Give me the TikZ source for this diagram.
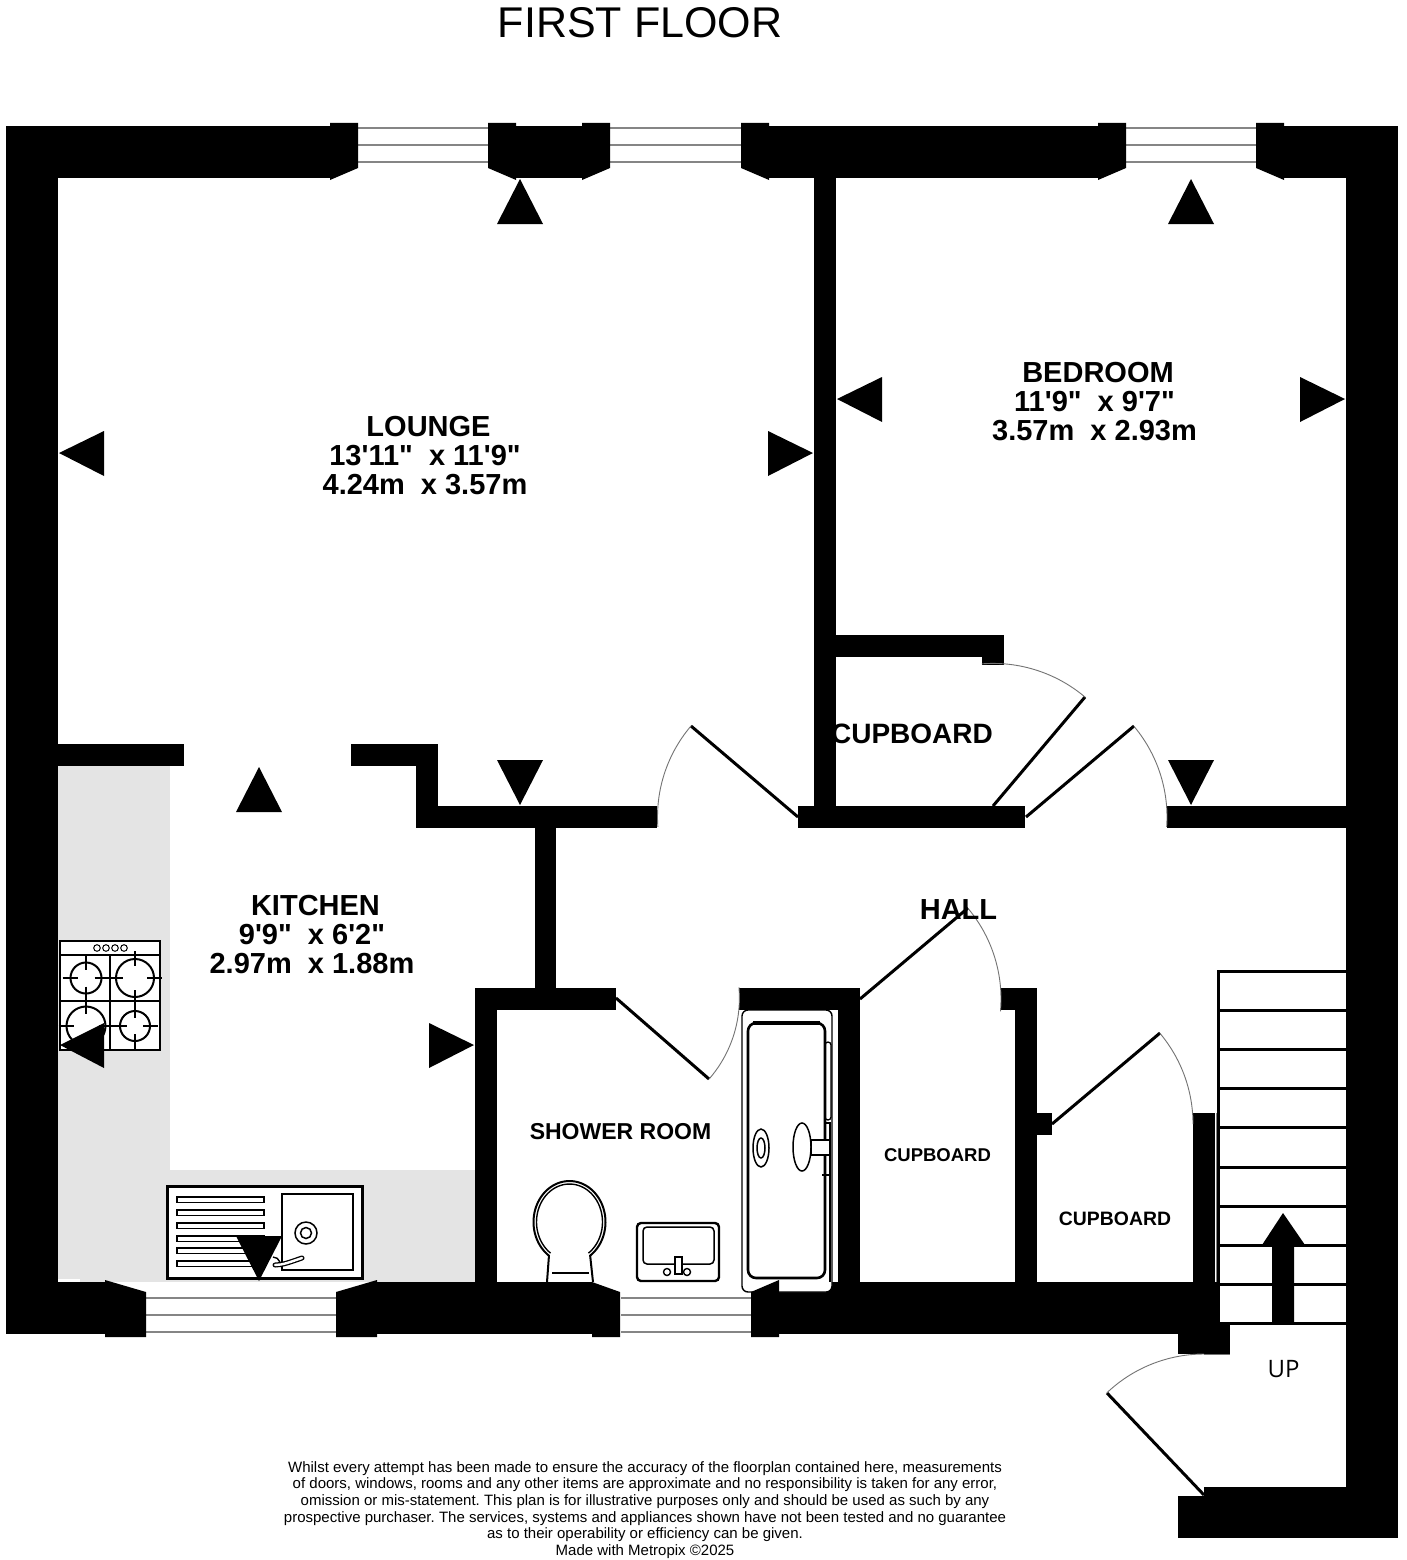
\documentclass[tikz,border=0pt]{standalone}
\usepackage{fontspec}
\setmainfont{Liberation Sans}
\newfontfamily\plainsans{Liberation Sans}
\newfontfamily\upfont{Open Sans}
\tikzset{
  wall/.style={fill=black,draw=none},
  glass/.style={draw=black!48,line width=2.6pt},
  leaf/.style={draw=black,line width=3pt},
  swing/.style={draw=black!55,line width=0.9pt},
  fix/.style={draw=black,line width=2pt,fill=white},
  thin/.style={draw=black,line width=1.8pt},
  roomlabel/.style={font=\fontsize{29}{29}\plainsans\bfseries,align=center,inner sep=0pt},
  tag/.style={inner sep=0pt},
}
\newcommand{\doorswing}[5]{\draw[swing] plot[domain=#4:#5,samples=30,smooth] ({#1+#3*cos(\x)},{#2+#3*sin(\x)});}
\newcommand{\rec}[4]{\fill[wall] (#1,#2) rectangle (#3,#4);}
\begin{document}
\begin{tikzpicture}[x=1pt,y=-1pt]
\frenchspacing
\useasboundingbox (0,0) rectangle (1406,1560);
\fill[white] (0,0) rectangle (1406,1560);
% worktops
\fill[black!10.5] (58,766) rectangle (170,1283);
\fill[black!10.5] (58,1170) rectangle (475,1283);
\fill[white] (58,1279) rectangle (80,1283);
% outer walls
\rec{6}{126}{1398}{178}
\rec{6}{126}{58}{1334}
\rec{1346}{126}{1398}{1538}
\rec{6}{1282}{1219}{1334}
\rec{1204}{1487}{1398}{1538}
\rec{1178}{1496}{1204}{1538}
\rec{1178}{1334}{1230}{1354}
\rec{1219}{1323}{1230}{1354}
% window openings
\fill[white] (330,126) rectangle (516,178);
\fill[white] (582,126) rectangle (769,178);
\fill[white] (1098,126) rectangle (1284,178);
\fill[white] (105,1282) rectangle (377,1334);
\fill[white] (592,1282) rectangle (779,1334);
\foreach \a/\b in {358/488,610/741,1126/1256}{
  \foreach \y in {128,145,162}{\draw[glass] (\a,\y) -- (\b,\y);}
}
\foreach \a/\b in {146/336,621/751}{
  \foreach \y in {1298,1315,1332}{\draw[glass] (\a,\y) -- (\b,\y);}
}
% jambs top
\foreach \a/\b in {330/358,582/610,1098/1126}{
  \fill[wall] (\a,123) -- (\b,123) -- (\b,168) -- (\a,180) -- cycle;}
\foreach \a/\b in {488/516,741/769,1256/1284}{
  \fill[wall] (\a,123) -- (\b,123) -- (\b,168) -- (\b,180) -- (\a,168) -- cycle;}
% jambs bottom
\fill[wall] (105,1280) -- (146,1292) -- (146,1337) -- (105,1337) -- cycle;
\fill[wall] (336,1292) -- (377,1280) -- (377,1337) -- (336,1337) -- cycle;
\fill[wall] (592,1282) -- (620,1292) -- (620,1337) -- (592,1337) -- cycle;
% inner walls
\rec{814}{126}{836}{828}
\rec{58}{744}{184}{766}
\rec{351}{744}{438}{766}
\rec{416}{744}{438}{828}
\rec{416}{806}{657}{828}
\rec{535}{806}{556}{1010}
\rec{475}{988}{616}{1010}
\rec{475}{988}{497}{1334}
\rec{739}{988}{860}{1010}
\rec{838}{988}{860}{1334}
\rec{798}{806}{1025}{828}
\rec{836}{635}{1004}{657}
\rec{982}{635}{1004}{665}
\rec{1167}{806}{1347}{828}
\rec{1001}{988}{1037}{1010}
\rec{1015}{988}{1037}{1334}
\rec{1015}{1113}{1052}{1135}
\rec{1193}{1113}{1215}{1334}
% doors
\draw[leaf] (798,817) -- (691,726); \doorswing{798}{817}{140.5}{176}{220.4}
\draw[leaf] (1026,817) -- (1134,726); \doorswing{1026}{817}{141}{-40}{4}
\draw[leaf] (993,806) -- (1085,697); \doorswing{993}{806}{142.6}{-94.5}{-49.8}
\draw[leaf] (616,998) -- (709,1079); \doorswing{616}{998}{123.4}{-5}{41}
\draw[leaf] (860,999) -- (968,908); \doorswing{860}{999}{141}{-40}{5}
\draw[leaf] (1052,1124) -- (1160,1033); \doorswing{1052}{1124}{141}{-40}{0}
\draw[leaf] (1204,1495) -- (1107,1393); \doorswing{1204}{1495}{141}{226.4}{270}
\draw[swing] (1204,1354) -- (1230,1354);
% stairs
\draw[black!50,line width=0.9pt] (1216,1113) -- (1216,1282);
\draw[draw=black,line width=3pt] (1218.5,970) -- (1218.5,1323);
\foreach \y in {971,1010,1049,1088,1127,1167,1206,1245,1284,1323}{
  \draw[draw=black,line width=3pt] (1218,\y) -- (1347,\y);}
\fill[wall] (1272,1323) -- (1272,1245) -- (1262,1245) -- (1283,1213) -- (1305,1245) -- (1294,1245) -- (1294,1323) -- cycle;
% hob
\draw[fix] (60,941) rectangle (160,1050);
\draw[thin] (60,955) -- (160,955);
\draw[thin] (110,955) -- (110,1050);
\draw[thin] (60,1001) -- (160,1001);
\foreach \x in {97,106,115,124}{\draw[draw=black,line width=1pt] (\x,948) circle (3.3);}
\foreach \cx/\cy/\r in {86/978/15.5,135/978/19,86/1026/19.5,135/1026/15}{
  \draw[draw=black,line width=2pt] (\cx,\cy) circle (\r);
  \draw[thin] (\cx-\r-8,\cy) -- (\cx-\r+7,\cy);
  \draw[thin] (\cx+\r-7,\cy) -- (\cx+\r+8,\cy);
  \draw[thin] (\cx,\cy-\r-8) -- (\cx,\cy-\r+7);
  \draw[thin] (\cx,\cy+\r-7) -- (\cx,\cy+\r+8);
}
% sink
\draw[draw=black,line width=3pt,fill=white] (167,1186) rectangle (362,1278);
\draw[draw=black,line width=1.7pt] (282,1194) rectangle (353,1270);
\foreach \y in {1197,1210,1223,1236,1248,1261}{
  \draw[draw=black,line width=1.4pt] (177,\y) rectangle (264,\y+5.5);}
\draw[draw=black,line width=1.5pt] (306,1233) circle (11);
\draw[draw=black,line width=1.5pt] (306,1233) circle (5.5);
\draw[draw=black,line width=5pt,line cap=round] (275,1265) .. controls (283,1265) and (290,1262) .. (302,1258);
\draw[draw=white,line width=2.4pt,line cap=round] (275,1265) .. controls (283,1265) and (290,1262) .. (302,1258);
\draw[draw=black,line width=1.4pt] (273,1257) .. controls (276,1257) and (279,1259) .. (280,1262);
% toilet
\draw[draw=black,line width=2pt] plot[domain=125:415,samples=60,smooth] ({569.5+36*cos(\x)},{1222+41*sin(\x)}) -- (593,1282) (547,1282) -- (549,1255);
\draw[draw=black,line width=1.4pt] plot[domain=125:415,samples=60,smooth] ({569.5+33*cos(\x)},{1222+38*sin(\x)});
\draw[draw=black,line width=1.4pt] (552,1273) -- (589,1273);
% basin
\draw[draw=black,line width=2.4pt,rounded corners=4pt] (637,1223) rectangle (719,1281);
\draw[draw=black,line width=1.5pt,rounded corners=4pt] (643,1227) rectangle (714,1264);
\draw[draw=black,line width=1.4pt,fill=white] (675,1257) rectangle (682,1274);
\draw[draw=black,line width=1.4pt,fill=white] (667,1272) circle (3.5);
\draw[draw=black,line width=1.4pt,fill=white] (687,1272) circle (3.5);
% shower
\draw[draw=black,line width=1.4pt,rounded corners=6pt,fill=white] (742,1010) rectangle (832,1292);
\draw[draw=black,line width=2.6pt,rounded corners=8pt,fill=white] (748,1023) rectangle (825,1278);
\draw[draw=black,line width=3.4pt,rounded corners=6pt] (753,1023) -- (820,1023);
\draw[draw=black,line width=1.3pt,rounded corners=3pt] (825,1042) rectangle (831,1120);
\draw[draw=black,line width=1.3pt] (825,1123) rectangle (830,1175);
\draw[draw=black,line width=1.5pt] (761,1148) ellipse (8 and 19);
\draw[draw=black,line width=1.5pt] (761,1148) ellipse (4 and 10);
\draw[draw=black,line width=1.5pt,fill=white] (811,1140) rectangle (830,1155);
\draw[draw=black,line width=1.5pt,fill=white] (802,1147) ellipse (9 and 24);
\draw[draw=black,line width=1.5pt] (822,1175) -- (830,1175);
\draw[draw=black,line width=1.2pt] (830,1175) -- (830,1282);
% jamb over shower
\fill[wall] (751,1292) -- (779,1280) -- (779,1337) -- (751,1337) -- cycle;
% viewpoint markers
\fill[wall] (520,179) -- (543,224) -- (497,224) -- cycle;
\fill[wall] (1191,179) -- (1214,224) -- (1168,224) -- cycle;
\fill[wall] (259,767) -- (282,812) -- (236,812) -- cycle;
\fill[wall] (520,805) -- (497,760) -- (543,760) -- cycle;
\fill[wall] (1191,805) -- (1168,760) -- (1214,760) -- cycle;
\fill[wall] (259,1281) -- (236,1236) -- (282,1236) -- cycle;
\fill[wall] (59,453) -- (104,431) -- (104,476) -- cycle;
\fill[wall] (813,453) -- (768,431) -- (768,476) -- cycle;
\fill[wall] (837,399) -- (882,377) -- (882,422) -- cycle;
\fill[wall] (1345,399) -- (1300,377) -- (1300,422) -- cycle;
\fill[wall] (60,1045) -- (104,1023) -- (104,1068) -- cycle;
\fill[wall] (474,1045) -- (429,1023) -- (429,1068) -- cycle;
% labels
\node[inner sep=0pt,font=\fontsize{43}{43}\selectfont] (title) at (640,22.5) {FIRST FLOOR};
\node[roomlabel] (lounge) at (425,456) {\hspace*{7pt}LOUNGE\\13'11"\ \ x 11'9"\\4.24m\ \ x 3.57m};
\node[roomlabel] (bedroom) at (1094.5,402) {\hspace*{7pt}BEDROOM\\11'9"\ \ x 9'7"\\3.57m\ \ x 2.93m};
\node[roomlabel] (kitchen) at (312,935) {\hspace*{7pt}KITCHEN\\9'9"\ \ x 6'2"\\2.97m\ \ x 1.88m};
\node[tag,font=\fontsize{23}{23}\selectfont\bfseries] (shower) at (620.5,1132) {SHOWER ROOM};
\node[tag,font=\fontsize{28}{28}\selectfont\bfseries] (cup1) at (912,733.5) {CUPBOARD};
\node[tag,font=\fontsize{29}{29}\selectfont\bfseries] (hall) at (958.5,910) {HALL};
\node[tag,font=\fontsize{18.5}{18.5}\selectfont\bfseries] (cup2) at (937.5,1155) {CUPBOARD};
\node[tag,font=\fontsize{19.4}{19.4}\selectfont\bfseries] (cup3) at (1115,1218.5) {CUPBOARD};
\node[inner sep=0pt,font=\fontsize{24}{24}\upfont] (up) at (1283.5,1369) {UP};
\node[inner sep=0pt,align=center,font=\fontsize{15}{16.6}\selectfont] (note) at (645,1510) {Whilst every attempt has been made to ensure the accuracy of the floorplan contained here, measurements\\
of doors, windows, rooms and any other items are approximate and no responsibility is taken for any error,\\
omission or mis-statement. This plan is for illustrative purposes only and should be used as such by any\\
prospective purchaser. The services, systems and appliances shown have not been tested and no guarantee\\
as to their operability or efficiency can be given.\\
Made with Metropix \textcopyright2025};
\end{tikzpicture}
\end{document}
